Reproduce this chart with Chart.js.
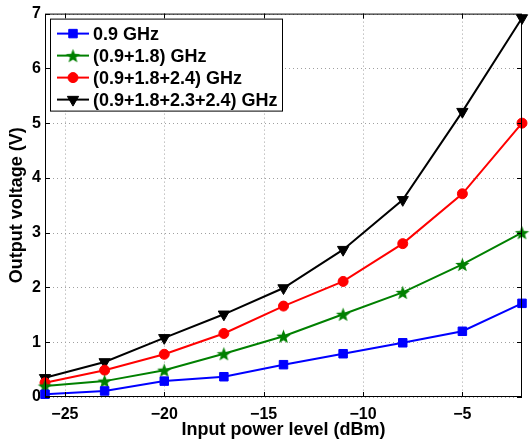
<!DOCTYPE html>
<html>
<head>
<meta charset="utf-8">
<script src="https://cdn.jsdelivr.net/npm/chart.js@4.4.0/dist/chart.umd.min.js"></script>
<style>
    html, body { margin: 0; padding: 0; background: #fff; }
    #wrap { width: 530px; height: 442px; }
</style>
</head>
<body>
<div id="wrap"><canvas id="chart" width="530" height="442"></canvas></div>
<script>
// Data
const INPUT_DBM = [-26, -23, -20, -17, -14, -11, -8, -5, -2];
const V_09 = [0.05, 0.11, 0.29, 0.37, 0.59, 0.79, 0.99, 1.2, 1.71];
const V_09_18 = [0.2, 0.29, 0.49, 0.79, 1.11, 1.51, 1.91, 2.42, 3.0];
const V_09_18_24 = [0.26, 0.49, 0.78, 1.16, 1.66, 2.11, 2.8, 3.71, 5.0];
const V_09_18_23_24 = [0.35, 0.64, 1.08, 1.51, 1.99, 2.69, 3.6, 5.21, 6.92];
const SERIES_LABELS = ['0.9 GHz', '(0.9+1.8) GHz', '(0.9+1.8+2.4) GHz', '(0.9+1.8+2.3+2.4) GHz'];
const X_TICKS = [-25, -20, -15, -10, -5];
const Y_TICKS = [0, 1, 2, 3, 4, 5, 6, 7];

const FONT = "'Liberation Sans', Arial, sans-serif";
Chart.defaults.font.family = FONT;
Chart.defaults.font.weight = 'bold';
Chart.defaults.color = '#000';

// filled pentagram marker
function makeStar(color, r) {
    const c = document.createElement('canvas');
    const s = Math.ceil(r * 2 + 2);
    c.width = s; c.height = s;
    const g = c.getContext('2d');
    g.fillStyle = color;
    g.beginPath();
    for (let i = 0; i < 10; i++) {
        const rad = i % 2 === 0 ? r : r * 0.42;
        const a = -Math.PI / 2 + i * Math.PI / 5;
        const px = s / 2 + rad * Math.cos(a);
        const py = s / 2 + rad * Math.sin(a) + r * 0.1;
        if (i === 0) g.moveTo(px, py); else g.lineTo(px, py);
    }
    g.closePath();
    g.fill();
    return c;
}

const STAR = makeStar('#008000', 7.5);

const SERIES = [
    { data: V_09, color: '#0000ff', style: 'rect', radius: 6, rotation: 0 },
    { data: V_09_18, color: '#008000', style: STAR, radius: 7, rotation: 0 },
    { data: V_09_18_24, color: '#ff0000', style: 'circle', radius: 5, rotation: 0 },
    { data: V_09_18_23_24, color: '#000000', style: 'triangle', radius: 6.5, rotation: 180 },
];

const gridPlugin = {
    id: 'gridPlugin',
    beforeDatasetsDraw(chart) {
        const { ctx, chartArea: a } = chart;
        const xs = chart.scales.x, ys = chart.scales.y;
        ctx.save();
        ctx.strokeStyle = '#a0a0a0';
        ctx.lineWidth = 1;
        ctx.setLineDash([1, 3]);
        ctx.beginPath();
        for (const t of X_TICKS) {
            const px = Math.round(xs.getPixelForValue(t)) + 0.5;
            ctx.moveTo(px, a.top); ctx.lineTo(px, a.bottom);
        }
        for (const t of Y_TICKS) {
            const py = Math.round(ys.getPixelForValue(t)) + 0.5;
            ctx.moveTo(a.left, py); ctx.lineTo(a.right, py);
        }
        ctx.stroke();
        ctx.restore();
    }
};

const boxPlugin = {
    id: 'boxPlugin',
    afterDatasetsDraw(chart) {
        const { ctx, chartArea: a } = chart;
        ctx.save();
        ctx.strokeStyle = '#000';
        ctx.lineWidth = 1;
        ctx.strokeRect(a.left + 0.5, a.top + 0.5, a.right - a.left - 1, a.bottom - a.top - 1);

        // inward ticks
        const xs = chart.scales.x, ys = chart.scales.y;
        ctx.beginPath();
        for (const t of X_TICKS) {
            const px = Math.round(xs.getPixelForValue(t)) + 0.5;
            ctx.moveTo(px, a.bottom); ctx.lineTo(px, a.bottom - 5);
            ctx.moveTo(px, a.top); ctx.lineTo(px, a.top + 5);
        }
        for (const t of Y_TICKS) {
            const py = Math.round(ys.getPixelForValue(t)) + 0.5;
            ctx.moveTo(a.left, py); ctx.lineTo(a.left + 5, py);
            ctx.moveTo(a.right, py); ctx.lineTo(a.right - 5, py);
        }
        ctx.stroke();

        // legend box inside plot
        const lx = a.left + 5, ly = a.top + 5, lw = 232, lh = 92, rowH = 22;
        ctx.fillStyle = '#fff';
        ctx.fillRect(lx, ly, lw, lh);
        ctx.strokeRect(lx + 0.5, ly + 0.5, lw, lh);
        ctx.font = "bold 18px " + FONT;
        ctx.textBaseline = 'middle';
        chart.data.datasets.forEach((ds, i) => {
            const y = ly + 15 + i * rowH;
            ctx.strokeStyle = ds.borderColor;
            ctx.fillStyle = ds.borderColor;
            ctx.lineWidth = 2;
            ctx.beginPath();
            ctx.moveTo(lx + 7, y); ctx.lineTo(lx + 39, y);
            ctx.stroke();
            ctx.lineWidth = 1;
            Chart.helpers.drawPoint(ctx, {
                pointStyle: ds.pointStyle, radius: ds.pointRadius, rotation: ds.pointRotation,
                borderWidth: 1
            }, lx + 23, y);
            ctx.fillStyle = '#000';
            ctx.fillText(ds.label, lx + 43, y + 1);
        });
        ctx.restore();
    }
};

new Chart(document.getElementById('chart'), {
    type: 'line',
    data: {
        labels: INPUT_DBM,
        datasets: SERIES.map((s, i) => ({
            label: SERIES_LABELS[i],
            data: INPUT_DBM.map((x, j) => ({ x: x, y: s.data[j] })),
            borderColor: s.color,
            backgroundColor: s.color,
            pointBackgroundColor: s.color,
            pointBorderColor: s.color,
            pointStyle: s.style,
            pointRadius: s.radius,
            pointRotation: s.rotation,
            pointBorderWidth: 1,
            borderWidth: 2,
            tension: 0,
            clip: false,
        }))
    },
    options: {
        responsive: false,
        animation: false,
        layout: { padding: { top: 12, right: 1, left: 0, bottom: 0 } },
        plugins: {
            legend: { display: false },
            tooltip: { enabled: false }
        },
        scales: {
            x: {
                type: 'linear',
                min: -26,
                max: -2,
                afterBuildTicks: (scale) => { scale.ticks = X_TICKS.map(v => ({ value: v })); },
                afterFit: (scale) => { scale.height = 45; },
                grid: { display: false, drawTicks: false },
                border: { display: false },
                ticks: {
                    padding: 8,
                    font: { size: 16, weight: 'bold' },
                    callback: (v) => String(v).replace('-', '\u2212')
                },
                title: {
                    display: true,
                    text: 'Input power level (dBm)',
                    font: { size: 18, weight: 'bold' },
                    padding: { top: 0, bottom: 1 }
                }
            },
            y: {
                min: 0,
                max: 7,
                afterBuildTicks: (scale) => { scale.ticks = Y_TICKS.map(v => ({ value: v })); },
                afterFit: (scale) => { scale.width = 45; },
                grid: { display: false, drawTicks: false },
                border: { display: false },
                ticks: {
                    padding: 4,
                    font: { size: 16, weight: 'bold' }
                },
                title: {
                    display: true,
                    text: 'Output voltage (V)',
                    font: { size: 18, weight: 'bold' },
                    padding: { top: 6, bottom: 0 }
                }
            }
        }
    },
    plugins: [gridPlugin, boxPlugin]
});
</script>
</body>
</html>
